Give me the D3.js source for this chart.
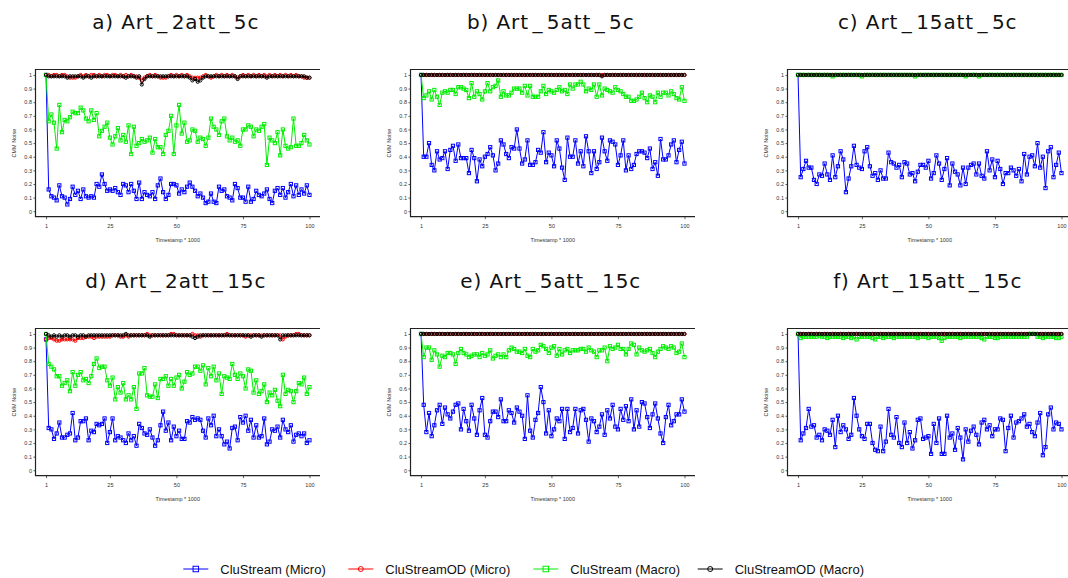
<!DOCTYPE html>
<html>
<head>
<meta charset="utf-8">
<script src="https://cdn.jsdelivr.net/npm/d3@7"></script>
<style>
  html, body { margin: 0; padding: 0; background: #fff; }
  svg { display: block; }
</style>
</head>
<body>
<script>
// timestamps (x 1000) and axis ticks
const timestamps = d3.range(1, 101);
const xTicks = [1, 25, 50, 75, 100];
const yTicks = [0, 0.1, 0.2, 0.3, 0.4, 0.5, 0.6, 0.7, 0.8, 0.9, 1];

const titles = ["a) Art_2att_5c", "b) Art_5att_5c", "c) Art_15att_5c",
                "d) Art_2att_15c", "e) Art_5att_15c", "f) Art_15att_15c"];
const seriesNames = ["CluStream (Micro)", "CluStreamOD (Micro)", "CluStream (Macro)", "CluStreamOD (Macro)"];

// ---- a) Art_2att_5c
const aMicro = [1,0.16,0.11,0.10,0.08,0.19,0.11,0.10,0.05,0.09,0.18,0.12,0.15,0.09,0.16,0.11,0.10,0.11,0.10,0.20,
  0.18,0.27,0.20,0.15,0.16,0.15,0.17,0.14,0.12,0.20,0.19,0.14,0.20,0.15,0.09,0.21,0.09,0.14,0.12,0.11,
  0.14,0.09,0.19,0.24,0.14,0.09,0.12,0.20,0.20,0.19,0.13,0.16,0.14,0.18,0.21,0.18,0.15,0.11,0.13,0.10,
  0.06,0.07,0.13,0.07,0.06,0.18,0.15,0.16,0.11,0.10,0.08,0.20,0.17,0.10,0.10,0.07,0.18,0.07,0.09,0.15,
  0.12,0.11,0.13,0.16,0.09,0.06,0.15,0.17,0.12,0.17,0.10,0.14,0.20,0.11,0.19,0.12,0.16,0.13,0.19,0.12];
const aOdMicro = [1,1,0.99,1,1,0.99,1,1,0.99,0.98,0.98,0.98,0.99,1,0.99,1,0.99,1,1,0.99,
  1,0.99,1,1,0.99,1,1,0.99,1,0.99,1,0.99,1,0.99,0.99,0.98,0.96,0.98,0.99,1,
  0.99,1,0.99,0.98,0.98,0.98,0.99,1,0.99,1,0.99,1,0.99,1,0.99,0.98,0.98,0.98,0.98,0.99,
  1,0.99,0.98,0.99,1,0.99,1,0.99,1,0.99,1,0.99,0.98,0.99,1,0.99,1,0.99,1,0.99,
  1,0.99,1,0.99,1,0.99,1,0.99,1,0.99,1,0.99,1,0.99,1,0.99,0.99,0.98,0.98,0.98];
const aMacro = [1,0.66,0.71,0.65,0.46,0.78,0.58,0.67,0.66,0.69,0.73,0.72,0.72,0.76,0.74,0.68,0.66,0.74,0.67,0.72,
  0.55,0.59,0.62,0.65,0.54,0.49,0.55,0.61,0.52,0.56,0.51,0.63,0.42,0.62,0.48,0.50,0.53,0.51,0.52,0.54,
  0.43,0.53,0.47,0.47,0.42,0.56,0.59,0.70,0.42,0.63,0.78,0.57,0.65,0.51,0.52,0.60,0.59,0.51,0.54,0.53,
  0.48,0.54,0.68,0.62,0.60,0.56,0.66,0.68,0.55,0.52,0.54,0.51,0.52,0.48,0.60,0.60,0.63,0.62,0.55,0.60,
  0.59,0.62,0.64,0.34,0.54,0.52,0.50,0.58,0.41,0.60,0.48,0.46,0.47,0.68,0.48,0.48,0.50,0.56,0.52,0.49];
const aOdMacro = [1,0.99,0.99,0.99,0.99,0.99,0.99,0.99,0.98,0.99,0.99,0.99,0.99,0.99,0.98,0.99,0.99,0.98,0.99,0.99,
  0.99,0.99,0.99,0.99,0.99,0.99,0.99,0.99,0.99,0.99,0.98,0.99,0.99,0.99,0.98,0.99,0.93,0.97,0.99,0.99,
  0.99,0.99,0.99,0.99,0.99,0.99,0.99,0.99,0.99,0.99,0.99,0.99,0.99,0.99,0.98,0.96,0.97,0.95,0.96,0.98,
  0.99,0.99,0.99,0.99,0.99,0.99,0.99,0.99,0.99,0.99,0.99,0.99,0.97,0.99,0.99,0.99,0.99,0.99,0.99,0.99,
  0.99,0.99,0.99,0.98,0.99,0.99,0.99,0.99,0.99,0.99,0.99,0.99,0.99,0.99,0.99,0.99,0.99,0.99,0.98,0.98];

// ---- b) Art_5att_5c
const bMicro = [1,0.40,0.40,0.50,0.34,0.30,0.44,0.38,0.39,0.44,0.31,0.45,0.48,0.37,0.49,0.39,0.39,0.39,0.28,0.45,
  0.39,0.22,0.38,0.33,0.40,0.42,0.47,0.41,0.30,0.35,0.52,0.49,0.42,0.39,0.47,0.46,0.60,0.46,0.35,0.38,
  0.52,0.34,0.34,0.36,0.45,0.43,0.58,0.36,0.43,0.41,0.33,0.52,0.46,0.32,0.23,0.54,0.40,0.40,0.52,0.35,
  0.44,0.33,0.55,0.44,0.28,0.44,0.31,0.36,0.54,0.44,0.37,0.52,0.51,0.49,0.34,0.41,0.52,0.30,0.41,0.31,
  0.34,0.42,0.44,0.44,0.43,0.39,0.46,0.31,0.36,0.26,0.53,0.38,0.38,0.41,0.49,0.52,0.36,0.45,0.51,0.35];
const bOdMicro = [1,1,1,1,1,1,1,1,1,1,1,1,1,1,1,1,1,1,1,1,1,1,1,1,1,1,1,1,1,1,1,1,1,1,1,1,1,1,1,1,
  1,1,1,1,1,1,1,1,1,1,1,1,1,1,1,1,1,1,1,1,1,1,1,1,1,1,1,1,1,1,1,1,1,1,1,1,1,1,1,1,
  1,1,1,1,1,1,1,1,1,1,1,1,1,1,1,1,1,1,1,1];
const bMacro = [1,0.83,0.85,0.88,0.82,0.89,0.84,0.78,0.87,0.88,0.87,0.89,0.89,0.86,0.91,0.91,0.90,0.89,0.83,0.94,
  0.84,0.88,0.86,0.82,0.88,0.94,0.88,0.91,0.92,0.96,0.84,0.88,0.85,0.85,0.87,0.90,0.90,0.90,0.87,0.92,
  0.85,0.92,0.84,0.84,0.84,0.88,0.92,0.86,0.89,0.88,0.87,0.89,0.91,0.88,0.89,0.86,0.93,0.90,0.93,0.93,
  0.95,0.93,0.88,0.90,0.89,0.93,0.84,0.93,0.85,0.90,0.89,0.88,0.87,0.91,0.89,0.88,0.86,0.84,0.84,0.81,
  0.81,0.82,0.84,0.87,0.83,0.80,0.85,0.84,0.80,0.87,0.84,0.87,0.87,0.85,0.88,0.86,0.83,0.82,0.91,0.81];
const bOdMacro = [1,1,1,1,1,1,1,1,1,1,1,1,1,1,1,1,1,1,1,1,1,1,1,1,1,1,1,1,1,1,1,1,1,1,1,1,1,1,1,1,
  1,1,1,1,1,1,1,1,1,1,1,1,1,1,1,1,1,1,1,1,1,1,1,1,1,1,1,1,0.99,1,1,1,1,1,1,1,1,1,1,1,
  1,1,1,1,1,1,1,1,1,1,1,1,1,1,1,1,1,1,1,1];

// ---- c) Art_15att_5c
const cMicro = [1,0.25,0.31,0.37,0.32,0.32,0.23,0.20,0.27,0.26,0.35,0.27,0.23,0.41,0.25,0.33,0.44,0.38,0.14,0.24,
  0.33,0.48,0.34,0.32,0.31,0.44,0.47,0.33,0.26,0.28,0.23,0.30,0.24,0.24,0.43,0.36,0.35,0.32,0.34,0.25,
  0.36,0.35,0.27,0.28,0.22,0.29,0.34,0.34,0.32,0.37,0.24,0.28,0.41,0.35,0.23,0.31,0.39,0.19,0.35,0.29,
  0.27,0.19,0.32,0.20,0.32,0.34,0.35,0.27,0.35,0.26,0.24,0.44,0.30,0.38,0.25,0.37,0.31,0.20,0.28,0.28,
  0.32,0.30,0.26,0.31,0.22,0.42,0.27,0.40,0.41,0.33,0.50,0.32,0.40,0.17,0.44,0.47,0.25,0.34,0.43,0.28];
const cOdMicro = [1,1,1,1,1,1,1,1,1,1,1,1,1,1,1,1,1,1,1,1,1,1,1,1,1,1,1,1,1,1,1,1,1,1,1,1,1,1,1,1,
  1,1,1,1,1,1,1,1,1,1,1,1,1,1,1,1,1,1,1,1,1,1,1,1,1,1,1,1,1,1,1,1,1,1,1,1,1,1,1,1,
  1,1,1,1,1,1,1,1,1,1,1,1,1,1,1,1,1,1,1,1];
const cMacro = [1,1,1,1,1,1,1,1,1,1,1,1,1,0.99,1,1,1,1,1,1,1,1,1,1,0.99,1,1,1,1,1,1,1,1,1,1,1,1,1,1,1,
  1,1,1,1,0.99,1,1,1,1,1,1,1,1,1,1,1,1,1,1,1,1,1,1,0.99,1,1,1,1,0.99,1,1,1,1,1,1,1,1,1,1,1,
  1,1,1,1,1,1,1,1,1,1,1,1,1,1,1,1,1,1,1,1];
const cOdMacro = [1,1,1,1,1,1,1,1,1,1,1,1,1,1,1,1,1,1,1,1,1,1,1,1,1,1,1,1,1,1,1,1,1,1,1,1,1,1,1,1,
  1,1,1,1,1,1,1,1,1,1,1,1,1,1,1,1,1,1,1,1,1,1,1,1,1,1,1,1,1,1,1,1,1,1,1,1,1,1,1,1,
  1,1,1,1,1,1,1,1,1,1,1,1,1,1,1,1,1,1,1,1];

// ---- d) Art_2att_15c
const dMicro = [0.96,0.31,0.30,0.23,0.27,0.35,0.24,0.24,0.26,0.27,0.42,0.22,0.24,0.36,0.36,0.38,0.22,0.29,0.28,0.34,
  0.33,0.34,0.38,0.20,0.28,0.38,0.22,0.25,0.24,0.22,0.20,0.27,0.22,0.25,0.18,0.34,0.31,0.27,0.26,0.30,
  0.24,0.18,0.22,0.33,0.43,0.29,0.35,0.22,0.32,0.25,0.29,0.23,0.23,0.36,0.35,0.39,0.37,0.38,0.37,0.29,
  0.24,0.38,0.33,0.40,0.25,0.30,0.25,0.19,0.21,0.16,0.31,0.32,0.22,0.39,0.35,0.40,0.29,0.37,0.24,0.33,
  0.24,0.25,0.38,0.19,0.21,0.30,0.29,0.32,0.24,0.37,0.30,0.28,0.33,0.21,0.26,0.27,0.25,0.27,0.20,0.22];
const dOdMicro = [0.96,0.97,0.97,0.96,0.95,0.95,0.96,0.96,0.96,0.96,0.96,0.95,0.97,0.97,0.97,0.98,0.98,0.98,0.97,0.98,
  0.98,0.98,0.98,0.98,0.98,0.99,0.99,0.99,0.98,0.98,0.99,0.98,0.99,0.99,0.99,0.99,0.99,0.99,1,0.99,
  0.99,0.99,0.99,0.99,0.99,0.99,0.99,1,1,0.99,0.99,0.99,0.99,0.99,0.99,1,0.99,0.99,0.98,0.99,
  0.99,0.99,0.99,0.99,0.99,0.99,0.99,0.99,1,0.99,0.99,0.99,0.99,0.99,0.99,0.98,0.99,0.99,0.99,0.99,
  0.99,0.99,0.99,0.99,0.99,0.99,0.99,0.99,0.99,0.96,0.98,0.99,0.99,0.99,1,1,0.99,0.99,0.99,0.99];
const dMacro = [1,0.78,0.76,0.74,0.69,0.69,0.62,0.64,0.66,0.58,0.72,0.62,0.70,0.72,0.66,0.67,0.64,0.69,0.78,0.82,
  0.75,0.76,0.76,0.66,0.62,0.68,0.52,0.61,0.57,0.64,0.52,0.55,0.52,0.61,0.45,0.71,0.71,0.75,0.55,0.54,
  0.54,0.63,0.53,0.67,0.67,0.69,0.62,0.67,0.62,0.68,0.70,0.60,0.65,0.72,0.70,0.71,0.76,0.76,0.73,0.77,
  0.63,0.75,0.69,0.76,0.66,0.71,0.56,0.69,0.68,0.67,0.78,0.70,0.67,0.71,0.69,0.60,0.74,0.73,0.57,0.66,
  0.56,0.58,0.63,0.50,0.57,0.55,0.59,0.51,0.47,0.70,0.56,0.59,0.58,0.50,0.58,0.64,0.63,0.68,0.56,0.61];
const dOdMacro = [1,0.99,0.98,0.99,0.98,0.99,0.98,0.99,0.99,0.98,0.99,0.99,0.98,0.99,0.99,0.98,0.99,0.99,0.99,0.99,
  0.99,0.99,0.99,0.99,0.99,0.99,0.99,0.99,0.99,0.99,1,0.99,0.99,0.99,0.99,0.99,0.99,0.99,0.99,0.98,
  0.99,0.99,0.99,0.99,0.99,0.99,0.99,0.99,0.99,0.99,0.99,0.99,0.99,0.99,0.99,0.98,0.97,0.98,0.99,0.99,
  0.99,0.99,0.99,0.99,0.99,0.99,0.99,0.99,0.99,0.99,0.99,0.99,0.99,0.99,0.99,0.99,0.99,0.98,0.99,0.99,
  0.99,0.98,0.99,0.99,0.99,0.99,0.99,0.99,0.96,0.99,0.99,0.99,0.99,0.99,0.99,0.99,0.99,0.99,0.99,0.99];

// ---- e) Art_5att_15c
const eMicro = [1,0.48,0.28,0.42,0.25,0.33,0.44,0.48,0.34,0.46,0.41,0.38,0.43,0.48,0.49,0.30,0.45,0.36,0.29,0.48,
  0.38,0.26,0.44,0.53,0.26,0.24,0.36,0.43,0.43,0.39,0.52,0.36,0.36,0.44,0.42,0.35,0.46,0.43,0.40,0.23,
  0.55,0.29,0.24,0.37,0.42,0.61,0.50,0.27,0.44,0.25,0.30,0.38,0.36,0.45,0.23,0.45,0.28,0.31,0.45,0.27,
  0.44,0.45,0.37,0.21,0.38,0.36,0.28,0.32,0.41,0.26,0.44,0.38,0.48,0.32,0.30,0.45,0.37,0.47,0.36,0.52,
  0.30,0.44,0.32,0.50,0.49,0.39,0.31,0.41,0.49,0.38,0.27,0.20,0.39,0.48,0.33,0.36,0.41,0.41,0.52,0.43];
const eOdMicro = [1,1,1,1,1,1,1,1,1,1,1,1,1,1,1,1,1,1,1,1,1,1,1,1,1,1,1,1,1,1,1,1,1,1,1,1,1,1,1,1,
  1,1,1,1,1,1,1,1,1,1,1,1,1,1,1,1,1,1,1,1,1,1,1,1,1,1,1,1,1,1,1,1,1,1,1,1,1,1,1,1,
  1,1,1,1,1,1,1,1,1,1,1,1,1,1,1,1,1,1,1,1];
const eMacro = [1,0.83,0.90,0.90,0.81,0.88,0.85,0.76,0.84,0.83,0.86,0.86,0.85,0.78,0.86,0.89,0.86,0.85,0.83,0.84,
  0.85,0.85,0.83,0.86,0.84,0.85,0.88,0.82,0.84,0.85,0.83,0.85,0.83,0.88,0.90,0.89,0.87,0.87,0.86,0.89,
  0.84,0.83,0.89,0.87,0.88,0.92,0.91,0.89,0.86,0.90,0.91,0.84,0.89,0.85,0.88,0.89,0.86,0.88,0.88,0.88,
  0.89,0.89,0.87,0.90,0.88,0.87,0.83,0.88,0.88,0.90,0.80,0.91,0.89,0.90,0.92,0.89,0.89,0.85,0.89,0.93,
  0.92,0.85,0.90,0.88,0.87,0.88,0.89,0.86,0.83,0.87,0.89,0.91,0.90,0.89,0.91,0.90,0.86,0.87,0.93,0.83];
const eOdMacro = [1,1,1,1,1,1,1,1,1,1,1,1,1,1,1,1,1,1,1,1,1,1,1,1,1,1,1,1,1,1,1,1,1,1,1,1,1,1,1,1,
  1,1,1,1,1,1,1,1,1,1,1,1,1,1,1,1,1,1,1,1,1,1,1,1,1,1,1,1,1,1,1,1,1,1,1,1,1,1,1,1,
  1,1,1,1,1,1,1,1,1,1,1,1,1,1,1,1,1,1,1,1];

// ---- f) Art_15att_15c
const fMicro = [1,0.22,0.27,0.31,0.45,0.32,0.33,0.24,0.26,0.22,0.30,0.29,0.26,0.37,0.17,0.40,0.28,0.33,0.30,0.23,
  0.26,0.53,0.40,0.30,0.25,0.23,0.34,0.34,0.20,0.15,0.14,0.32,0.14,0.21,0.45,0.26,0.24,0.39,0.20,0.17,
  0.35,0.20,0.28,0.16,0.22,0.37,0.38,0.23,0.24,0.25,0.12,0.34,0.20,0.38,0.12,0.12,0.40,0.24,0.27,0.15,
  0.31,0.24,0.08,0.30,0.21,0.29,0.32,0.26,0.19,0.35,0.37,0.30,0.33,0.25,0.30,0.30,0.38,0.37,0.14,0.31,
  0.40,0.24,0.35,0.36,0.38,0.41,0.32,0.34,0.28,0.25,0.35,0.42,0.11,0.17,0.41,0.46,0.30,0.35,0.34,0.30];
const fOdMicro = [1,1,1,1,1,1,1,1,1,1,1,1,1,1,1,1,1,1,1,1,1,1,1,1,1,1,1,1,1,1,1,1,1,1,1,1,1,1,1,1,
  1,1,1,1,1,1,1,1,1,1,1,1,1,1,1,1,1,1,1,1,1,1,1,1,1,1,1,1,1,1,1,1,1,1,1,1,1,1,1,1,
  1,1,1,1,1,1,1,1,1,1,1,1,1,1,1,1,1,1,1,1];
const fMacro = [1,0.97,0.98,0.98,0.98,0.98,0.98,0.98,0.99,0.98,0.98,0.97,0.98,0.98,0.98,0.98,0.98,0.97,0.98,0.98,
  0.97,0.98,0.96,0.98,0.98,0.98,0.98,0.98,0.97,0.96,0.98,0.98,0.97,0.98,0.98,0.98,0.97,0.98,0.98,0.98,
  0.98,0.98,0.98,0.98,0.98,0.97,0.98,0.98,0.98,0.97,0.98,0.98,0.98,0.97,0.95,0.97,0.98,0.98,0.98,0.98,
  0.98,0.97,0.98,0.98,0.98,0.98,0.98,0.98,0.98,0.97,0.96,0.98,0.98,0.98,0.97,0.97,0.98,0.98,0.98,0.98,
  0.98,0.98,0.98,0.98,0.98,0.98,0.98,1,1,1,0.98,0.98,0.97,0.98,0.98,0.98,0.98,0.97,0.97,0.98];
const fOdMacro = [1,1,1,1,1,1,1,1,1,1,1,1,1,1,1,1,1,1,1,1,1,1,1,1,1,1,1,1,1,1,1,1,1,1,1,1,1,1,1,1,
  1,1,1,1,1,1,1,1,1,1,1,1,1,1,1,1,1,1,1,1,1,1,1,1,1,1,1,1,1,1,1,1,1,1,1,1,1,1,1,1,
  1,1,1,1,1,1,1,1,1,1,1,1,1,1,1,1,1,1,1,1];

const panelData = [
  [aMicro, aOdMicro, aMacro, aOdMacro],
  [bMicro, bOdMicro, bMacro, bOdMacro],
  [cMicro, cOdMicro, cMacro, cOdMacro],
  [dMicro, dOdMicro, dMacro, dOdMacro],
  [eMicro, eOdMicro, eMacro, eOdMacro],
  [fMicro, fOdMicro, fMacro, fOdMacro]
];

const colors = ["#0000ff", "#ff0000", "#00ee00", "#000000"];
const shapes = ["square", "circle", "square", "circle"];

const width = 1068, height = 578;
const colLeft = [35.5, 410.5, 787.5];
const rowTop = [69.5, 328.5];
const boxW = 284.5, boxH = 147.2;
const titleY = [29.3, 288.3];

const svg = d3.select("body").append("svg")
  .attr("width", width)
  .attr("height", height);

function drawMarker(g, shape, cx, cy, color, s) {
  if (shape === "square") {
    g.append("rect")
      .attr("x", cx - s / 2).attr("y", cy - s / 2)
      .attr("width", s).attr("height", s)
      .attr("fill", "none").attr("stroke", color).attr("stroke-width", 1);
  } else {
    g.append("circle")
      .attr("cx", cx).attr("cy", cy).attr("r", s / 2)
      .attr("fill", "none").attr("stroke", color).attr("stroke-width", 1);
  }
}

panelData.forEach((series, p) => {
  const col = p % 3, row = Math.floor(p / 3);
  const left = colLeft[col], top = rowTop[row];

  const x = d3.scaleLinear().domain([-2.96, 103.96]).range([left, left + boxW]);
  const y = d3.scaleLinear().domain([-0.04, 1.04]).range([top + boxH, top]);

  const g = svg.append("g");

  // title, with LaTeX-like spacing around the underscores
  const parts = titles[p].split("_");
  const title = g.append("text")
    .attr("x", left + boxW / 2 - 2)
    .attr("y", titleY[row])
    .attr("text-anchor", "middle")
    .style("font-family", "'DejaVu Sans', sans-serif")
    .style("font-size", "20px")
    .style("letter-spacing", "0.9px")
    .attr("fill", "#111");
  parts.forEach((t, i) => {
    if (i > 0) title.append("tspan").attr("dx", 3.5).text("_");
    title.append("tspan").attr("dx", i > 0 ? 3.5 : 0).text(t);
  });

  // series lines and markers
  series.forEach((vals, s) => {
    const pts = timestamps.map((t, i) => [t, vals[i]]);
    g.append("path")
      .datum(pts)
      .attr("fill", "none")
      .attr("stroke", colors[s])
      .attr("stroke-width", 1)
      .attr("d", d3.line().x(d => x(d[0])).y(d => y(d[1])));
    const mg = g.append("g");
    pts.forEach(d => drawMarker(mg, shapes[s], x(d[0]), y(d[1]), colors[s], 3.2));
  });

  // box open on the right side
  g.append("path")
    .attr("d", `M${left + boxW},${top}H${left}V${top + boxH}H${left + boxW}`)
    .attr("fill", "none")
    .attr("stroke", "#222")
    .attr("stroke-width", 1.2);

  // axes
  const yAxis = g.append("g")
    .attr("transform", `translate(${left},0)`)
    .call(d3.axisLeft(y).tickValues(yTicks).tickSize(2).tickPadding(1.5).tickFormat(d3.format("~g")));
  const xAxis = g.append("g")
    .attr("transform", `translate(0,${top + boxH})`)
    .call(d3.axisBottom(x).tickValues(xTicks).tickSize(2.5).tickPadding(4.5));
  [yAxis, xAxis].forEach(ax => {
    ax.select(".domain").remove();
    ax.selectAll("line").attr("stroke", "#333").attr("stroke-width", 0.8);
    ax.selectAll("text")
      .attr("fill", "#333")
      .style("font-family", "'Liberation Sans', Arial, sans-serif")
      .style("font-size", "5.5px");
  });

  g.append("text")
    .attr("transform", `translate(${left - 22},${top + boxH / 2}) rotate(-90)`)
    .attr("text-anchor", "middle")
    .attr("dominant-baseline", "central")
    .attr("fill", "#333")
    .style("font-family", "'Liberation Sans', Arial, sans-serif")
    .style("font-size", "5.5px")
    .text("CMM Noise");

  g.append("text")
    .attr("x", (x(1) + x(100)) / 2)
    .attr("y", top + boxH + 23.5)
    .attr("text-anchor", "middle")
    .attr("dominant-baseline", "central")
    .attr("fill", "#333")
    .style("font-family", "'Liberation Sans', Arial, sans-serif")
    .style("font-size", "5.5px")
    .text("Timestamp * 1000");
});

// legend
const legendX = [183.3, 348.3, 533.3, 697.7];
const legendY = 569;
const legend = svg.append("g");
seriesNames.forEach((name, i) => {
  const lx = legendX[i];
  legend.append("line")
    .attr("x1", lx).attr("x2", lx + 25)
    .attr("y1", legendY).attr("y2", legendY)
    .attr("stroke", colors[i]).attr("stroke-width", 1);
  drawMarker(legend, shapes[i], lx + 12.5, legendY, colors[i], shapes[i] === "square" ? 5.5 : 5);
  legend.append("text")
    .attr("x", lx + 37)
    .attr("y", legendY)
    .attr("dominant-baseline", "central")
    .attr("fill", "#111")
    .style("font-family", "'Liberation Sans', Arial, sans-serif")
    .style("font-size", "13px")
    .text(name);
});
</script>
</body>
</html>
